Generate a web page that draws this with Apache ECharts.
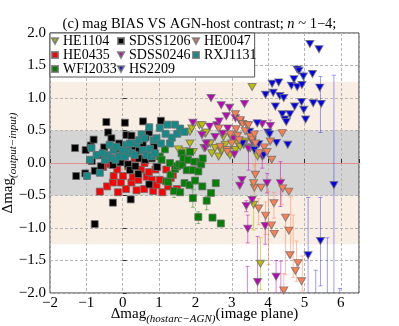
<!DOCTYPE html>
<html>
<head>
<meta charset="utf-8">
<script src="https://cdn.jsdelivr.net/npm/echarts@6/dist/echarts.min.js"></script>
<style>
  html, body { margin: 0; padding: 0; background: #fff; }
  #chart { width: 399px; height: 326px; }
</style>
</head>
<body>
<div id="chart"></div>
<script>
// points: [x, y]
var he1104 = [[1.53,0.21],[1.74,0.18],[1.85,0.30],[1.85,0.48],[1.90,0.53],[1.94,0.17],[2.11,0.58],[2.18,0.58],
  [2.24,0.23],[2.27,0.45],[2.30,0.47],[2.36,0.30],[2.41,0.30],[2.45,0.15],[2.54,0.23],[2.64,0.10],[2.71,0.18],
  [2.73,0.20],[2.77,0.40],[2.82,0.28],[2.88,0.18],[2.95,0.12],[3.00,0.38],[3.10,0.20],[3.16,0.30],[3.23,0.25],
  [3.33,0.28],[3.37,0.33],[3.51,0.23],[3.56,1.17],[3.71,0.10],[3.60,-0.64],[3.79,-1.55]];
var he0435 = [[-0.63,-0.44],[-0.54,-0.06],[-0.43,-0.36],[-0.35,-0.02],[-0.27,-0.30],[-0.25,-0.20],[-0.13,-0.45],
  [-0.15,-0.10],[-0.05,-0.30],[0.00,0.02],[0.01,-0.20],[0.09,-0.40],[0.15,-0.05],[0.24,-0.30],[0.28,-0.22],
  [0.33,0.07],[0.38,-0.42],[0.43,-0.26],[0.50,-0.10],[0.59,-0.40],[0.60,0.00],[0.66,-0.21],[0.72,-0.14],
  [0.80,-0.26],[0.84,-0.43],[0.90,-0.10],[0.93,-0.34],[1.02,-0.26],[1.09,-0.45],[1.20,-0.10],[1.25,-0.36],
  [1.32,-0.23],[1.38,-0.18],[1.49,-0.40]];
var wfi2033 = [[0.93,-0.06],[1.02,0.10],[1.07,0.05],[1.16,0.21],[1.19,-0.28],[1.25,-0.29],[1.30,0.00],[1.32,-0.18],
  [1.41,-0.43],[1.44,-0.09],[1.50,-0.05],[1.56,-0.02],[1.58,-0.45],[1.62,0.15],[1.64,-0.03],[1.67,0.07],
  [1.70,-0.31],[1.76,-0.11],[1.80,0.05],[1.84,-0.34],[1.85,0.17],[1.93,-0.54],[1.93,-0.11],[1.97,0.02],
  [1.99,-0.27],[2.08,-0.13],[2.08,-0.83],[2.13,0.01],[2.16,-0.02],[2.19,-0.36],[2.20,0.07],[2.31,-0.58],
  [2.43,-0.46],[2.47,-0.84],[2.56,-0.31],[2.70,-0.93]];
var sdss1206 = [[-1.31,0.23],[-1.28,-0.20],[-1.02,0.20],[-1.03,-0.16],[-0.88,0.27],[-0.80,0.36],[-0.85,0.03],
  [-0.77,-0.12],[-0.77,-0.94],[-0.65,0.12],[-0.60,-0.05],[-0.51,0.24],[-0.45,0.63],[-0.40,0.47],[-0.31,0.38],
  [-0.27,-0.61],[-0.27,-0.03],[-0.20,0.22],[-0.10,0.30],[-0.06,0.01],[0.00,0.15],[0.06,0.62],[0.10,0.43],
  [0.15,-0.02],[0.20,-0.11],[0.22,-0.56],[0.24,0.42],[0.30,0.25],[0.35,-0.05],[0.43,-0.17],[0.44,0.07],
  [0.45,0.19],[0.55,0.30],[0.56,0.64],[0.62,0.05],[0.63,0.40],[0.72,0.47],[0.73,-0.33],[0.80,0.07],
  [0.86,0.25],[0.95,-0.06],[1.05,0.65]];
var sdss0246 = [[1.93,0.62],[2.18,0.43],[2.27,0.23],[2.30,0.30],[2.39,0.56],[2.43,1.00],[2.54,0.40],[2.59,0.58],
  [2.65,0.64],[2.71,0.89],[2.75,0.45],[2.85,0.72],[2.89,0.53],[2.94,0.85],[3.05,0.37],[3.07,0.13],[3.10,0.69],
  [3.23,0.64],[3.35,0.91],[3.46,0.22],[3.84,0.60],[4.06,0.57],[3.84,0.10],[3.28,-0.26],[3.22,-0.35],
  [3.97,-0.31],[4.34,-0.31],[3.40,-0.66],[3.56,-0.57],[3.44,-1.01],[3.92,-0.97],[3.71,-1.83],[4.22,-1.75]];
var hs2209 = [[3.30,0.30],[3.49,0.48],[3.56,0.33],[3.62,0.20],[3.70,0.61],[3.74,0.29],[3.88,0.12],[3.93,1.05],
  [3.99,0.47],[4.04,0.44],[4.11,1.22],[4.14,1.08],[4.20,0.87],[4.23,0.31],[4.29,1.24],[4.32,1.03],[4.39,0.75],
  [4.43,1.00],[4.46,0.67],[4.50,0.63],[4.54,0.28],[4.60,0.75],[4.64,1.19],[4.71,1.29],[4.73,0.87],[4.80,1.44],
  [4.85,1.42],[4.80,1.17],[4.92,0.94],[4.93,1.20],[4.97,1.33],[4.98,0.82],[5.03,0.67],[5.15,1.83],[5.22,1.37],
  [5.24,0.92],[5.40,1.75],[5.42,1.16],[5.46,0.91],[5.81,-0.34],[5.10,-1.42],[5.44,-1.20]];
var he0047 = [[2.64,0.53],[2.68,0.25],[2.87,0.20],[2.88,0.17],[2.96,0.44],[3.00,0.30],[3.10,0.75],[3.12,0.52],
  [3.16,0.42],[3.20,0.35],[3.23,0.66],[3.30,0.60],[3.37,0.49],[3.42,0.58],[3.46,0.58],[3.51,0.40],[3.56,0.36],
  [3.62,0.44],[3.65,0.30],[3.75,0.15],[3.89,0.24],[3.97,0.17],[4.06,0.33],[4.10,0.05],[4.39,0.46],
  [3.65,-0.18],[3.62,-0.38],[3.81,-0.38],[3.60,-0.31],[4.40,-0.39],[4.57,-0.44],[4.16,-0.62],[3.74,-0.70],
  [3.93,-0.81],[4.09,-0.96],[4.17,-1.09],[4.48,-0.84],[4.57,-1.04],[4.60,-1.42],[4.82,-1.54],[4.75,-1.66],
  [4.92,-1.82],[4.43,-1.96]];
var rxj1131 = [[-0.98,-0.20],[-0.90,0.05],[-0.86,0.23],[-0.72,0.12],[-0.63,-0.15],[-0.55,0.15],[-0.49,0.05],
  [-0.40,0.12],[-0.36,0.28],[-0.31,0.08],[-0.25,0.20],[-0.20,0.05],[-0.17,0.25],[-0.10,0.10],[0.00,0.20],
  [0.06,0.10],[0.10,0.28],[0.15,0.18],[0.20,0.30],[0.25,0.15],[0.33,0.12],[0.38,0.30],[0.45,0.35],[0.52,0.44],
  [0.55,0.20],[0.60,0.38],[0.65,0.12],[0.73,0.55],[0.75,0.22],[0.78,0.10],[0.85,0.35],[0.89,0.15],[0.93,0.38],
  [1.02,0.54],[1.05,0.30],[1.18,0.45],[1.23,0.59],[1.30,0.30],[1.35,0.39],[1.44,0.59],[1.50,0.45],[1.58,0.53],
  [1.70,0.48]];

// error bars: [x, top, bottom]
var he1104Err = [[3.60,-0.54,-1.03],[3.79,-1.15,-1.95]];
var wfi2033Err = [[1.93,-0.41,-0.68],[2.08,-0.75,-0.93],[2.31,-0.52,-0.72],[1.41,-0.40,-0.53]];
var sdss0246Err = [[3.44,-0.80,-1.23],[3.40,-0.58,-0.75],[4.34,0.02,-0.67],[3.97,-0.16,-0.46],[3.46,0.30,-0.11],
  [4.06,0.66,0.43],[3.84,0.12,-0.08],[3.71,-1.13,-2.5],[4.22,-1.50,-2.5],[3.43,-1.59,-2.5],[4.35,-1.51,-2.5],
  [3.92,-0.80,-1.25]];
var hs2209Err = [[5.44,1.33,0.47],[5.81,1.35,-2.5],[5.10,-0.53,-2.5],[5.44,-0.53,-1.89],[5.63,-1.15,-2.5],
  [5.31,-1.65,-2.5],[5.97,-1.93,-2.5],[4.97,1.40,1.25]];
var he0047Err = [[4.01,-0.44,-1.56],[4.37,-0.23,-0.64],[4.48,-0.84,-1.72],[4.62,-0.52,-1.45],[4.69,-0.80,-1.76],
  [4.78,-1.20,-1.82],[4.94,-1.43,-1.97],[4.43,-1.70,-2.5],[3.65,0.15,-0.18],[3.62,-0.03,-0.67],[3.74,-0.55,-0.95],
  [4.16,-0.45,-0.85],[3.93,-0.60,-1.10]];

var xTicks = [-2, -1, 0, 1, 2, 3, 4, 5, 6];

var serif = 'Liberation Serif';
var downTri = 'path://M0,0L10,0L5,9Z';
var chart = echarts.init(document.getElementById('chart'));

function minus(s) { return String(s).replace('-', '\u2212'); }

function errSeries(data, color) {
  return {
    type: 'custom',
    z: 8,
    clip: true,
    silent: true,
    data: data,
    renderItem: function (params, api) {
      var top = api.coord([api.value(0), api.value(1)]);
      var bot = api.coord([api.value(0), api.value(2)]);
      var st = { stroke: color, lineWidth: 1 };
      return {
        type: 'group',
        children: [
          { type: 'line', shape: { x1: top[0], y1: top[1], x2: bot[0], y2: bot[1] }, style: st },
          { type: 'line', shape: { x1: top[0] - 2, y1: top[1], x2: top[0] + 2, y2: top[1] }, style: st },
          { type: 'line', shape: { x1: bot[0] - 2, y1: bot[1], x2: bot[0] + 2, y2: bot[1] }, style: st }
        ]
      };
    }
  };
}

function pts(name, data, color, tri) {
  return {
    name: name,
    type: 'scatter',
    z: 10,
    data: data,
    symbol: tri ? 'triangle' : 'rect',
    symbolRotate: tri ? 180 : 0,
    symbolSize: tri ? [8, 7] : 7,
    itemStyle: { color: color, borderColor: 'rgba(110,110,110,0.8)', borderWidth: 1, opacity: 1 },
    animation: false
  };
}

function legendItem(name, tri) {
  return { name: name, icon: tri ? downTri : 'rect' };
}

var legendText = { fontFamily: serif, fontSize: 14, color: '#000', lineHeight: 14 };

chart.setOption({
  animation: false,
  title: {
    text: '(c) mag BIAS VS AGN-host contrast; {i|n} ~ 1\u22124;',
    left: 'center',
    top: 17,
    padding: 0,
    textStyle: {
      fontFamily: serif, fontSize: 14.5, fontWeight: 'normal', color: '#000',
      rich: { i: { fontFamily: serif, fontSize: 14.5, fontStyle: 'italic', color: '#000' } }
    }
  },
  grid: { left: 50, right: 40, top: 33, bottom: 33, show: true, z: 2, outerBoundsMode: 'none',
    backgroundColor: 'transparent', borderColor: '#333', borderWidth: 1 },
  legend: [
    { data: [legendItem('HE1104', true), legendItem('HE0435'), legendItem('WFI2033')],
      orient: 'vertical', left: 50, top: 33,
      padding: [1, 138, 1, 1], itemGap: 0, itemWidth: 6, itemHeight: 6,
      backgroundColor: '#fff', borderColor: '#555', borderWidth: 1, z: 20, textStyle: legendText },
    { data: [legendItem('SDSS1206'), legendItem('SDSS0246', true), legendItem('HS2209', true)],
      orient: 'vertical', left: 117, top: 34,
      padding: 0, itemGap: 0, itemWidth: 6, itemHeight: 6, z: 21, textStyle: legendText },
    { data: [legendItem('HE0047', true), legendItem('RXJ1131')],
      orient: 'vertical', left: 192, top: 34,
      padding: 0, itemGap: 0, itemWidth: 6, itemHeight: 6, z: 21, textStyle: legendText }
  ],
  xAxis: {
    type: 'value', min: -2, max: 6.5, interval: 1, z: 2,
    name: '{a|\u0394mag}{b|(hostarc\u2212AGN)}{a|(image plane)}',
    nameLocation: 'middle', nameGap: 14, nameMoveOverlap: false,
    nameTextStyle: {
      rich: {
        a: { fontFamily: serif, fontSize: 15, color: '#000', lineHeight: 18, verticalAlign: 'top' },
        b: { fontFamily: serif, fontSize: 11, fontStyle: 'italic', color: '#000', lineHeight: 18, verticalAlign: 'bottom' }
      }
    },
    axisLine: { show: false },
    axisTick: { show: true, inside: true, length: 4, lineStyle: { color: '#333' } },
    axisLabel: { fontFamily: serif, fontSize: 15, color: '#000', margin: 3,
      formatter: function (v) { return xTicks.indexOf(v) >= 0 ? minus(v) : ''; } },
    splitLine: { show: true, lineStyle: { color: '#b5b5b5', type: [3, 2], width: 1 } }
  },
  yAxis: {
    type: 'value', min: -2, max: 2, interval: 0.5, z: 2,
    name: '{a|\u0394mag}{b|(output\u2212input)}',
    nameLocation: 'middle', nameRotate: 90, nameGap: 31, nameMoveOverlap: false,
    nameTextStyle: {
      rich: {
        a: { fontFamily: serif, fontSize: 15, color: '#000', lineHeight: 18, verticalAlign: 'top' },
        b: { fontFamily: serif, fontSize: 11, fontStyle: 'italic', color: '#000', lineHeight: 18, verticalAlign: 'bottom' }
      }
    },
    axisLine: { show: false },
    axisTick: { show: true, inside: true, length: 4, lineStyle: { color: '#333' } },
    axisLabel: { fontFamily: serif, fontSize: 15, color: '#000', margin: 4,
      formatter: function (v) { return minus(v.toFixed(1)); } },
    splitLine: { show: true, lineStyle: { color: '#b5b5b5', type: [3, 2], width: 1 } }
  },
  series: [
    {
      type: 'line', data: [], silent: true,
      markArea: {
        silent: true, z: 1,
        data: [
          [{ yAxis: -1.25, itemStyle: { color: '#f9eee3' } }, { yAxis: 1.25 }],
          [{ yAxis: -0.5, itemStyle: { color: '#d4d4d4' } }, { yAxis: 0.5 }]
        ]
      },
      markLine: {
        silent: true, z: 3, symbol: 'none', label: { show: false },
        lineStyle: { color: '#e09090', width: 1, type: 'solid' },
        data: [{ yAxis: 0 }]
      }
    },
    errSeries(he1104Err, 'rgba(191,191,0,0.6)'),
    errSeries(wfi2033Err, 'rgba(0,128,0,0.45)'),
    errSeries(sdss0246Err, 'rgba(200,0,200,0.5)'),
    errSeries(hs2209Err, 'rgba(40,40,255,0.45)'),
    errSeries(he0047Err, 'rgba(255,127,80,0.5)'),
    pts('HE1104', he1104, '#bfbf00', true),
    pts('HE0435', he0435, '#ff0000', false),
    pts('WFI2033', wfi2033, '#008000', false),
    pts('SDSS1206', sdss1206, '#000000', false),
    pts('SDSS0246', sdss0246, '#bf00bf', true),
    pts('HS2209', hs2209, '#0000ee', true),
    pts('HE0047', he0047, '#ff7f50', true),
    pts('RXJ1131', rxj1131, '#138a8a', false)
  ]
});
</script>
</body>
</html>
